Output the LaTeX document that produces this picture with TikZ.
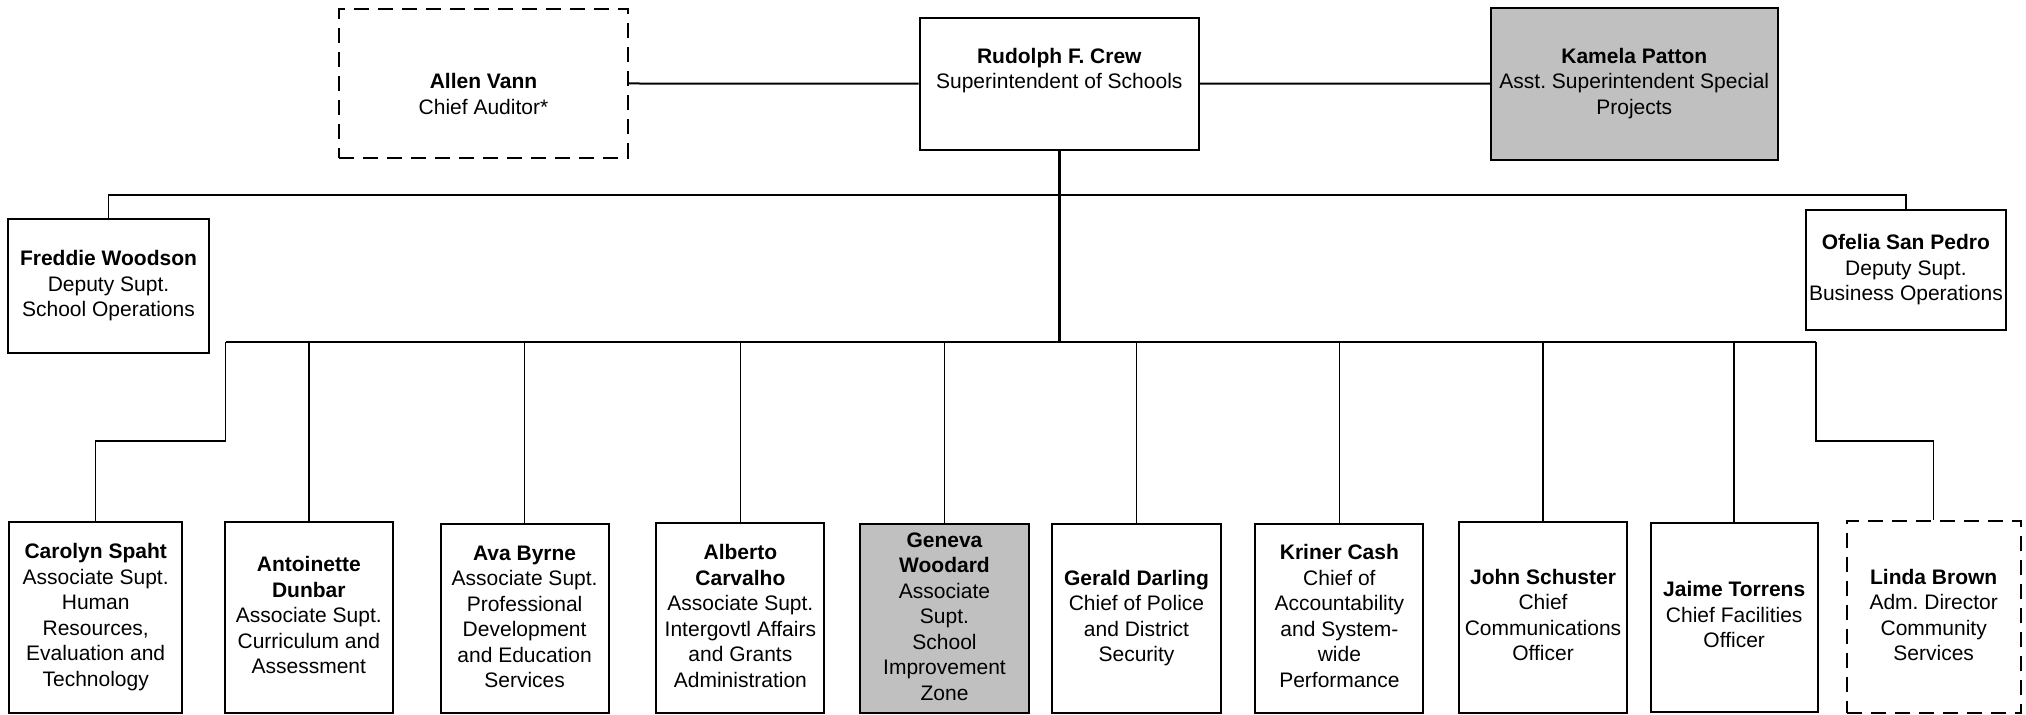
\documentclass[tikz,border=0pt]{standalone}
\usepackage{fontspec}
\setmainfont{Liberation Sans}
\newcommand\orgfont{\fontsize{10.5pt}{12.75pt}\selectfont\frenchspacing}
\definecolor{boxgray}{HTML}{C0C0C0}
\tikzset{
  orgbox/.style={draw, line width=1pt, rectangle, inner sep=0pt,
    align=center, font=\orgfont},
  dashbox/.style={orgbox, dash pattern=on 7.5pt off 4.5pt},
  graybox/.style={orgbox, fill=boxgray},
  link/.style={line width=1pt},
  mainstem/.style={line width=1.5pt},
  deputybar/.style={line width=0.75pt},
  busline/.style={line width=1pt},
  drop/.style={line width=0.75pt},
}
\begin{document}
\begin{tikzpicture}[x=0.5pt, y=-0.5pt]
\useasboundingbox (0,0) rectangle (2026,715);

% top row
\node[dashbox, minimum width=144.2pt, minimum height=74.2pt] (vann) at (483.5,83.5)
  {\strut\\\strut\textbf{Allen Vann}\\\strut Chief Auditor*};
\node[orgbox, minimum width=139.7pt, minimum height=66pt] (crew) at (1059.3,83.7)
  {\strut\textbf{Rudolph F. Crew}\\\strut Superintendent of Schools\\\strut};
\node[graybox, minimum width=143.4pt, minimum height=75.8pt] (patton) at (1634.3,83.75)
  {\strut\textbf{Kamela Patton}\\\strut Asst. Superintendent Special\\\strut Projects};

% deputies
\node[orgbox, minimum width=100.5pt, minimum height=67pt] (woodson) at (108.5,286)
  {\strut\textbf{Freddie Woodson}\\\strut Deputy Supt.\\\strut School Operations};
\node[orgbox, minimum width=100.2pt, minimum height=60pt] (sanpedro) at (1905.9,270)
  {\strut\textbf{Ofelia San Pedro}\\\strut Deputy Supt.\\\strut Business Operations};

% bottom row
\node[orgbox, minimum width=86.7pt, minimum height=95.8pt] (spaht) at (95.7,617.5)
  {\strut\textbf{Carolyn Spaht}\\\strut Associate Supt.\\\strut Human\\\strut Resources,\\\strut Evaluation and\\\strut Technology};
\node[orgbox, minimum width=83.9pt, minimum height=95.7pt] (dunbar) at (308.8,617.6)
  {\strut\textbf{Antoinette}\\\strut\textbf{Dunbar}\\\strut Associate Supt.\\\strut Curriculum and\\\strut Assessment};
\node[orgbox, minimum width=84pt, minimum height=94.5pt] (byrne) at (524.6,618.8)
  {\strut\textbf{Ava Byrne}\\\strut Associate Supt.\\\strut Professional\\\strut Development\\\strut and Education\\\strut Services};
\node[orgbox, minimum width=84pt, minimum height=95pt] (carvalho) at (740.4,618.4)
  {\strut\textbf{Alberto}\\\strut\textbf{Carvalho}\\\strut Associate Supt.\\\strut Intergovtl Affairs\\\strut and Grants\\\strut Administration};
\node[graybox, minimum width=84.5pt, minimum height=94.4pt] (woodard) at (944.5,618.6)
  {\strut\textbf{Geneva}\\\strut\textbf{Woodard}\\\strut Associate\\\strut Supt.\\\strut School\\\strut Improvement\\\strut Zone};
\node[orgbox, minimum width=84.2pt, minimum height=94.4pt] (darling) at (1136.5,618.6)
  {\strut\textbf{Gerald Darling}\\\strut Chief of Police\\\strut and District\\\strut Security};
\node[orgbox, minimum width=84pt, minimum height=94.5pt] (cash) at (1339.4,618.5)
  {\strut\textbf{Kriner Cash}\\\strut Chief of\\\strut Accountability\\\strut and System-\\\strut wide\\\strut Performance};
\node[orgbox, minimum width=84pt, minimum height=95.7pt] (schuster) at (1543,617.3)
  {\strut\textbf{John Schuster}\\\strut Chief\\\strut Communications\\\strut Officer};
\node[orgbox, minimum width=83.5pt, minimum height=94.4pt] (torrens) at (1734.2,617.3)
  {\strut\textbf{Jaime Torrens}\\\strut Chief Facilities\\\strut Officer};
\node[dashbox, minimum width=87pt, minimum height=96.2pt] (brown) at (1933.7,617.2)
  {\strut\textbf{Linda Brown}\\\strut Adm. Director\\\strut Community\\\strut Services};

% junction points
\coordinate (deputyrow) at (1059.3,195);
\coordinate (busL) at (225.7,342);
\coordinate (busR) at (1816,342);
\coordinate (bendL) at (225.7,441);
\coordinate (bendR) at (1816,441);

% connectors
\draw[link] (vann.east) -- (crew.west);
\draw[link] (crew.east) -- (patton.west);
\draw[mainstem] (crew.south) -- (crew.south |- busL);
\draw[deputybar] (woodson.north) -- (woodson.north |- deputyrow)
  -- (sanpedro.north |- deputyrow) -- (sanpedro.north);
\draw[busline] (busL) -- (busR);
\draw[drop] (busL) -- (bendL) -| (spaht.north);
\draw[drop] (busR) -- (bendR) -| (brown.north);
\foreach \n in {dunbar, byrne, carvalho, woodard, darling, cash, schuster, torrens}
  \draw[drop] (\n.north) -- (\n.north |- busL);
\end{tikzpicture}
\end{document}
